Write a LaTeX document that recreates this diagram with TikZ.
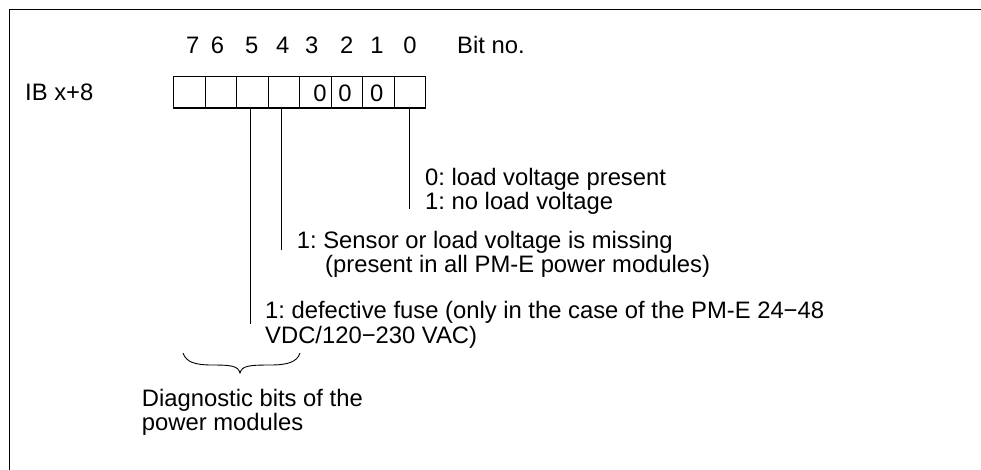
\documentclass[tikz,border=0pt]{standalone}
\usepackage{fontspec}
\setmainfont{Liberation Sans}
\frenchspacing
\begin{document}
\begin{tikzpicture}[x=1pt,y=-1pt,
  every node/.style={font=\fontsize{23.8}{24.5}\selectfont},
  txt/.style={anchor=base west,inner sep=0pt},
  num/.style={anchor=base,inner sep=0pt},
  cell/.style={draw,line width=1.1pt,minimum width=31.5pt,minimum height=31.3pt,inner sep=0pt,anchor=center},
  conn/.style={line width=0.9pt},
  frame/.style={line width=1.8pt}]
\useasboundingbox (0,0) rectangle (981,469);
% frame
\coordinate (fb) at (9.5,470);
\coordinate (fc) at (9.5,9.5);
\coordinate (fr) at (982,9.5);
\draw[frame] (fb) -- (fc) -- (fr);
% bit numbers
\node[num] (n7) at (192.7,53.5) {7};
\node[num] (n6) at (217.5,53.5) {6};
\node[num] (n5) at (251.7,53.5) {5};
\node[num] (n4) at (282.7,53.5) {4};
\node[num] (n3) at (311.7,53.5) {3};
\node[num] (n2) at (346.7,53.5) {2};
\node[num] (n1) at (377,53.5) {1};
\node[num] (n0) at (410,53.5) {0};
\node[txt] (bitno) at (457,53.5) {Bit no.};
\node[txt] (ib) at (25,100.5) {IB x+8};
% cells
\foreach \b/\i in {7/0,6/1,5/2,4/3,3/4,2/5,1/6,0/7}{
  \node[cell] (c\b) at (189.45+31.5*\i,92.35) {};
}
\node[num] (z3) at (320,101) {0};
\node[num] (z2) at (345,101) {0};
\node[num] (z1) at (376.7,101) {0};
% connectors
\coordinate (e0) at (409.3,209);
\coordinate (s0) at (409.3,108);
\coordinate (e4) at (281.7,250);
\coordinate (s4) at (281.7,108);
\coordinate (e5) at (250,324);
\coordinate (s5) at (250,108);
\draw[conn] (s0) -- (e0);
\draw[conn] (s4) -- (e4);
\draw[conn] (s5) -- (e5);
% texts
\node[txt] (t0a) at (425,185) {0: load voltage present};
\node[txt] (t0b) at (425,209.5) {1: no load voltage};
\node[txt] (t4a) at (296.7,248.5) {1: Sensor or load voltage is missing};
\node[txt] (t4b) at (325,272) {(present in all PM-E power modules)};
\node[txt] (t5a) at (265,318) {1: defective fuse (only in the case of the PM-E 24−48};
\node[txt] (t5b) at (265,343) {VDC/120−230 VAC)};
% brace
\coordinate (bl) at (183,353);
\coordinate (br) at (300,353);
\coordinate (bt) at (240,373);
\draw[line width=0.9pt] (bl) .. controls (186,362) and (195,365) .. (212,365)
  .. controls (232,365) and (238,366) .. (bt)
  .. controls (242,366) and (248,365) .. (270,365)
  .. controls (288,365) and (297,362) .. (br);
\node[txt] (d1) at (141.7,406.5) {Diagnostic bits of the};
\node[txt] (d2) at (141.7,430) {power modules};
\end{tikzpicture}
\end{document}
